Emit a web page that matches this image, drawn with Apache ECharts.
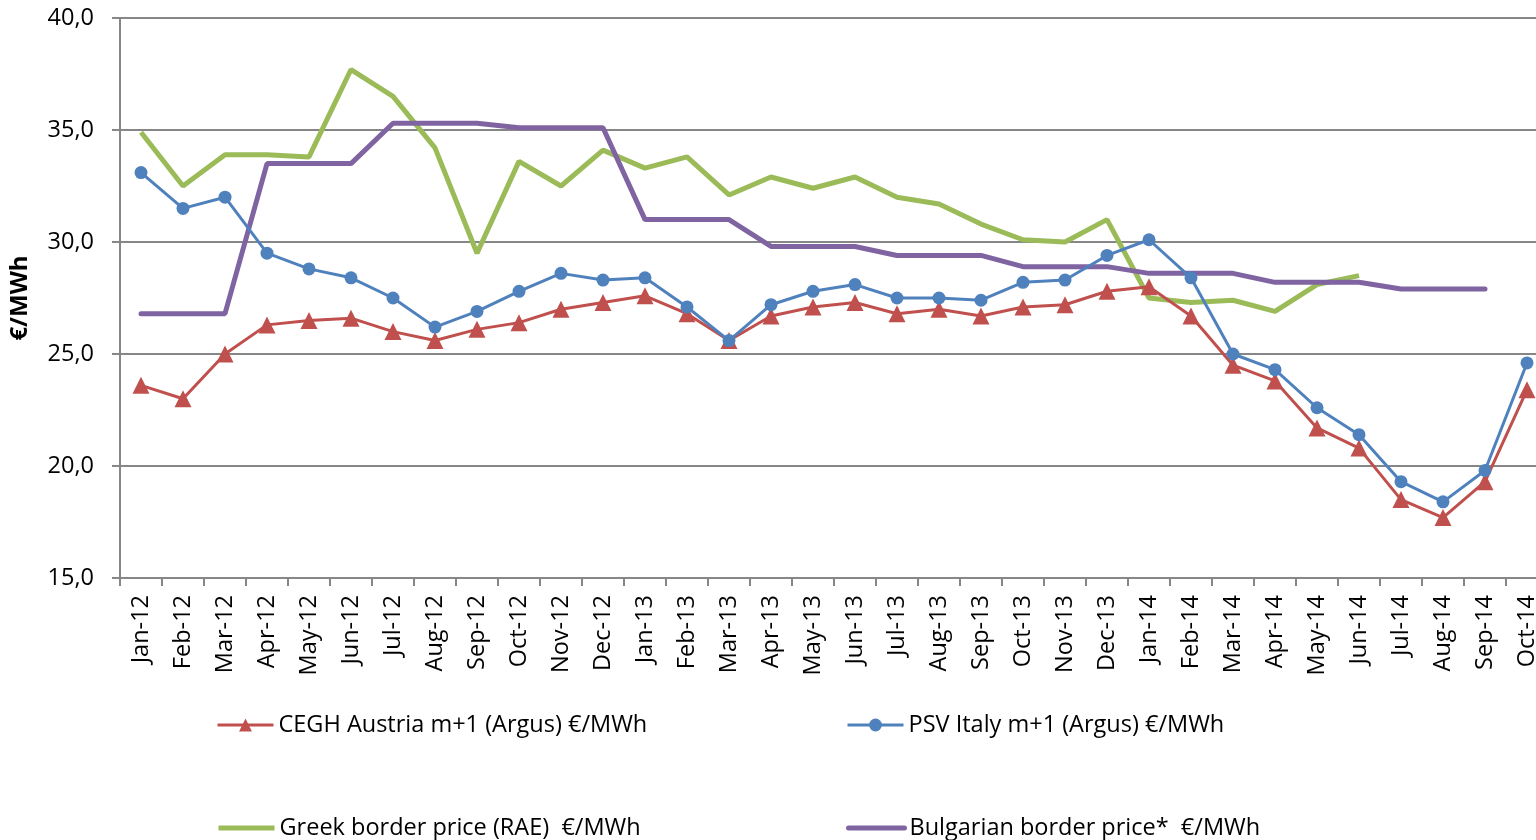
<!DOCTYPE html>
<html>
<head>
<meta charset="utf-8">
<script src="https://cdn.jsdelivr.net/npm/echarts@6/dist/echarts.min.js"></script>
<style>
  html, body { margin: 0; padding: 0; background: #fff; }
  #mainChart { width: 1536px; height: 840px; }
</style>
</head>
<body>
<div id="mainChart"></div>
<script>
// months on the x axis
var months = ["Jan-12", "Feb-12", "Mar-12", "Apr-12", "May-12", "Jun-12", "Jul-12", "Aug-12", "Sep-12", "Oct-12", "Nov-12", "Dec-12",
  "Jan-13", "Feb-13", "Mar-13", "Apr-13", "May-13", "Jun-13", "Jul-13", "Aug-13", "Sep-13", "Oct-13", "Nov-13", "Dec-13",
  "Jan-14", "Feb-14", "Mar-14", "Apr-14", "May-14", "Jun-14", "Jul-14", "Aug-14", "Sep-14", "Oct-14"];

var ceghAustria = [23.6, 23.0, 25.0, 26.3, 26.5, 26.6, 26.0, 25.6, 26.1, 26.4, 27.0, 27.3,
  27.6, 26.8, 25.6, 26.7, 27.1, 27.3, 26.8, 27.0, 26.7, 27.1, 27.2, 27.8,
  28.0, 26.7, 24.5, 23.8, 21.7, 20.8, 18.5, 17.7, 19.3, 23.4];

var psvItaly = [33.1, 31.5, 32.0, 29.5, 28.8, 28.4, 27.5, 26.2, 26.9, 27.8, 28.6, 28.3,
  28.4, 27.1, 25.6, 27.2, 27.8, 28.1, 27.5, 27.5, 27.4, 28.2, 28.3, 29.4,
  30.1, 28.4, 25.0, 24.3, 22.6, 21.4, 19.3, 18.4, 19.8, 24.6];

var greekBorder = [34.9, 32.5, 33.9, 33.9, 33.8, 37.7, 36.5, 34.2, 29.5, 33.6, 32.5, 34.1,
  33.3, 33.8, 32.1, 32.9, 32.4, 32.9, 32.0, 31.7, 30.8, 30.1, 30.0, 31.0,
  27.5, 27.3, 27.4, 26.9, 28.1, 28.5, null, null, null, null];

var bulgarianBorder = [26.8, 26.8, 26.8, 33.5, 33.5, 33.5, 35.3, 35.3, 35.3, 35.1, 35.1, 35.1,
  31.0, 31.0, 31.0, 29.8, 29.8, 29.8, 29.4, 29.4, 29.4, 28.9, 28.9, 28.9,
  28.6, 28.6, 28.6, 28.2, 28.2, 28.2, 27.9, 27.9, 27.9, null];

var chart = echarts.init(document.getElementById("mainChart"));

var fontName = "Open Sans";
function legendAt(item, left, top) {
  return {
    data: [item],
    left: left,
    top: top,
    padding: 0,
    itemWidth: 56,
    itemHeight: 16,
    textStyle: { fontFamily: fontName, fontSize: 23.5, color: "#000", lineHeight: 28 }
  };
}

var option = {
  animation: false,
  legend: [
    legendAt({ name: "CEGH Austria m+1 (Argus) €/MWh", lineStyle: { width: 3 } }, 216, 711),
    legendAt({ name: "PSV Italy m+1 (Argus) €/MWh", lineStyle: { width: 3 } }, 846, 711),
    legendAt({ name: "Greek border price (RAE)  €/MWh", itemStyle: { opacity: 0 }, lineStyle: { width: 5 } }, 216, 814),
    legendAt({ name: "Bulgarian border price*  €/MWh", itemStyle: { opacity: 0 }, lineStyle: { width: 5 } }, 846, 814)
  ],
  grid: {
    left: 120,
    top: 18,
    width: 1428,
    height: 560,
    outerBoundsMode: "none"
  },
  xAxis: {
    type: "category",
    data: months,
    boundaryGap: true,
    axisLine: { lineStyle: { color: "#868686", width: 2 } },
    axisTick: { show: true, length: 8, lineStyle: { color: "#868686", width: 2 } },
    axisLabel: { rotate: 90, interval: 0, margin: 17, color: "#000", fontFamily: fontName, fontSize: 23.5 }
  },
  yAxis: {
    type: "value",
    min: 15,
    max: 40,
    interval: 5,
    name: "€/MWh",
    nameLocation: "middle",
    nameRotate: 90,
    nameGap: 88,
    nameTextStyle: { fontFamily: fontName, fontSize: 24, fontWeight: "bold", color: "#000" },
    axisLine: { show: true, lineStyle: { color: "#868686", width: 2 } },
    axisTick: { show: true, length: 8, lineStyle: { color: "#868686", width: 2 } },
    axisLabel: {
      margin: 26,
      color: "#000",
      fontFamily: fontName,
      fontSize: 23.5,
      formatter: function (v) { return v.toFixed(1).replace(".", ","); }
    },
    splitLine: { lineStyle: { color: "#868686", width: 2 } }
  },
  series: [
    {
      name: "Greek border price (RAE)  €/MWh",
      type: "line",
      data: greekBorder,
      symbol: "none",
      lineStyle: { color: "#9BBB59", width: 5 },
      itemStyle: { color: "#9BBB59" },
      z: 2
    },
    {
      name: "Bulgarian border price*  €/MWh",
      type: "line",
      data: bulgarianBorder,
      symbol: "none",
      lineStyle: { color: "#8064A2", width: 5, cap: "round" },
      itemStyle: { color: "#8064A2" },
      z: 3
    },
    {
      name: "CEGH Austria m+1 (Argus) €/MWh",
      type: "line",
      data: ceghAustria,
      symbol: "triangle",
      symbolSize: 17,
      lineStyle: { color: "#C0504D", width: 3 },
      itemStyle: { color: "#C0504D" },
      z: 4
    },
    {
      name: "PSV Italy m+1 (Argus) €/MWh",
      type: "line",
      data: psvItaly,
      symbol: "circle",
      symbolSize: 13,
      lineStyle: { color: "#4F81BD", width: 3 },
      itemStyle: { color: "#4F81BD" },
      z: 5
    }
  ]
};

chart.setOption(option);
</script>
</body>
</html>
